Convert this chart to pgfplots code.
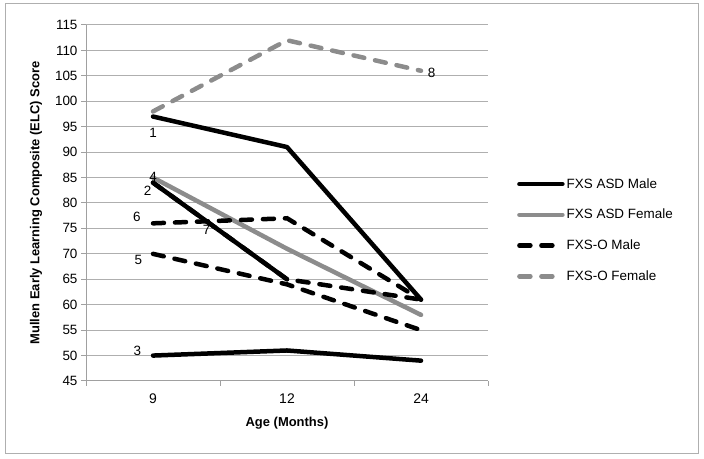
\documentclass[border=0pt]{standalone}
\usepackage{fontspec}
\setmainfont{Liberation Sans}
\usepackage{pgfplots}
\pgfplotsset{compat=1.18}
\definecolor{ser}{RGB}{140,140,140}
\definecolor{gridc}{RGB}{175,175,175}
\definecolor{axc}{RGB}{160,160,160}
\definecolor{framec}{RGB}{175,175,175}
\tikzset{sld/.style={line width=4.5bp, line cap=round, line join=round},
         dsh/.style={line width=4.5bp, line cap=round, dash pattern=on 11bp off 11bp}}
\begin{document}
\begin{tikzpicture}[x=1bp,y=1bp]
\useasboundingbox (0,0) rectangle (704,459);
\draw[framec, line width=1bp] (5,5) rectangle (698,455);
\begin{axis}[
  at={(86bp,78bp)}, anchor=south west, scale only axis,
  width=402bp, height=356bp,
  xmin=-0.5, xmax=2.5, ymin=45, ymax=115,
  xtick={0,1,2}, xticklabels={9,12,24},
  major x tick style={draw=none},
  minor xtick={-0.5,0.5,1.5,2.5},
  ytick={45,50,...,115},
  /pgf/number format/assume math mode=true,
  tick align=outside, major tick length=5bp, minor tick length=5bp,
  axis x line*=bottom, axis y line*=left,
  axis line style={axc, line width=1bp, -},
  tick style={axc, line width=1bp},
  ymajorgrids, grid style={gridc, line width=1bp},
  yticklabel style={font=\fontsize{13.5}{15}\selectfont, text=black},
  xticklabel style={font=\fontsize{14}{15}\selectfont, text=black, yshift=-4bp},
  xlabel={Age (Months)}, ylabel={Mullen Early Learning Composite (ELC) Score},
  label style={font=\fontsize{13}{15}\selectfont\bfseries},
  xlabel style={at={(axis description cs:0.5,-0.118)}, anchor=center},
  ylabel style={at={(axis description cs:-0.124,0.5)}, anchor=center, rotate=0},
  legend style={at={(1.072,0.575)}, anchor=north west, draw=none, fill=none,
    font=\fontsize{13.5}{15}\selectfont, row sep=15.5bp, inner sep=0pt,
    /tikz/every even column/.append style={column sep=3bp}},
  legend cell align=left,
  legend image code/.code={\draw[#1] (0bp,0bp) -- (43bp,0bp);},
  clip=false,
]
% legend series
\addplot[black, sld] coordinates {(0,97) (1,91) (2,61)};
\addlegendentry{FXS ASD Male}
\addplot[ser, sld] coordinates {(0,85) (1,71) (2,58)};
\addlegendentry{FXS ASD Female}
\addplot[black, dsh] coordinates {(0,70) (1,64) (2,55)};
\addlegendentry{FXS-O Male}
\addplot[ser, dsh] coordinates {(0,98) (1,112) (2,106)};
\addlegendentry{FXS-O Female}
% other cases
\addplot[black, sld, forget plot] coordinates {(0,84) (1,65)};
\addplot[black, sld, forget plot] coordinates {(0,50) (1,51) (2,49)};
\addplot[black, dsh, forget plot] coordinates {(0,76) (1,77) (2,61)};
\addplot[black, dsh, forget plot] coordinates {(0,84) (1,65) (2,61)};
% case numbers
\begin{scope}[every node/.style={font=\fontsize{13.5}{15}\selectfont, inner sep=0pt}]
\node at (axis cs:0,93.8) {1};
\node at (axis cs:-0.04,82.4) {2};
\node at (axis cs:-0.117,51.0) {3};
\node at (axis cs:0,85.2) {4};
\node at (axis cs:-0.11,68.8) {5};
\node at (axis cs:-0.12,77.2) {6};
\node at (axis cs:0.40,74.7) {7};
\node at (axis cs:2.08,105.6) {8};
\end{scope}
\end{axis}
\end{tikzpicture}
\end{document}
